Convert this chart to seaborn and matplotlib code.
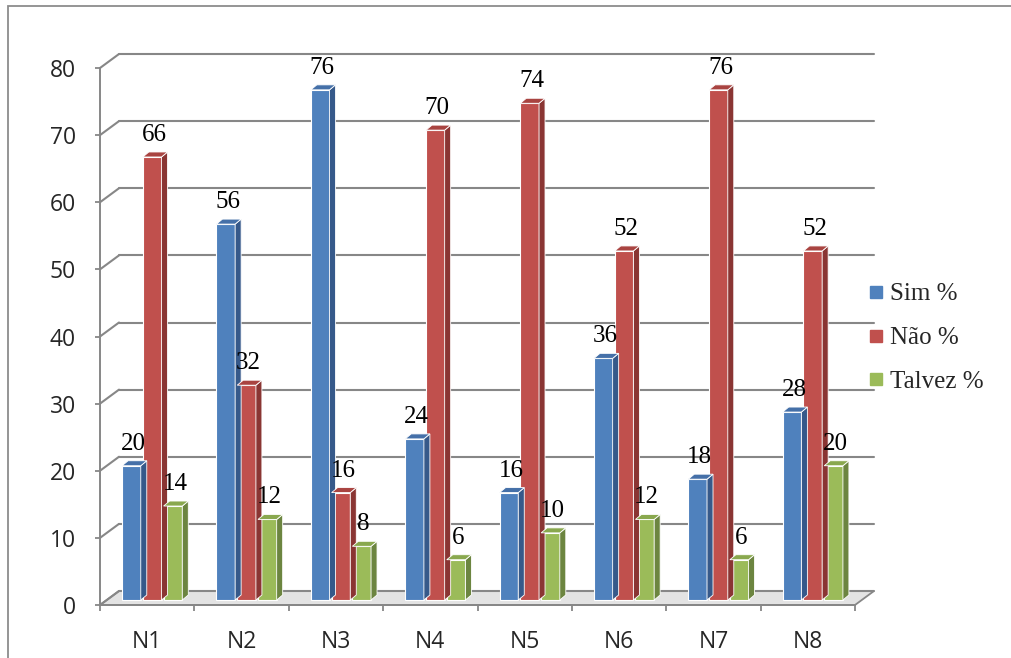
import matplotlib
matplotlib.use("Agg")
import matplotlib.pyplot as plt
import matplotlib.transforms as mtransforms
from matplotlib.patches import Polygon, Rectangle
from matplotlib.lines import Line2D
from matplotlib.font_manager import FontProperties
import pandas as pd
import seaborn as sns

# ---- data ----
categories = ["N1", "N2", "N3", "N4", "N5", "N6", "N7", "N8"]
sim = [20, 56, 76, 24, 16, 36, 18, 28]
nao = [66, 32, 16, 70, 74, 52, 76, 52]
talvez = [14, 12, 8, 6, 10, 12, 6, 20]
series_names = ["Sim %", "Não %", "Talvez %"]
y_ticks = [0, 10, 20, 30, 40, 50, 60, 70, 80]

# ---- styling ----
front_colors = ["#4F81BD", "#C0504D", "#9BBB59"]
side_colors = ["#36598A", "#8A3533", "#6C8540"]
top_colors = ["#4570A8", "#A94441", "#89A84E"]
grid_color = "#878787"

df = pd.DataFrame({
    "grupo": categories * 3,
    "valor": sim + nao + talvez,
    "serie": [s for s in series_names for _ in categories],
})

sns.set_style("white")
W, H = 1011, 658
DPI = 100
fig = plt.figure(figsize=(W / DPI, H / DPI), dpi=DPI)
fig.patch.set_facecolor("white")

ax = fig.add_axes([100 / W, (H - 605) / H, 755 / W, (605 - 68) / H])
ax.set_facecolor("none")

sns.barplot(data=df, x="grupo", y="valor", hue="serie", palette=front_colors,
            width=0.66, gap=0.1, saturation=1, edgecolor="white", linewidth=0.8,
            legend=False, ax=ax, zorder=3)
ax.set_xlim(-0.5, len(categories) - 0.5)
ax.set_ylim(0, 80)
ax.set_xlabel("")
ax.set_ylabel("")

ident = mtransforms.IdentityTransform()
px = 1.0 / DPI  # one pixel in inches

# back-wall depth and bar depth (pixels)
wall_dx, wall_dy = 19, 14
bar_dx, bar_dy = 6, 5
bar_shift = mtransforms.ScaledTranslation(5 * px, 5 * px, fig.dpi_scale_trans)


def disp(x, y):
    return ax.transData.transform((x, y))


x_lo, x_hi = ax.get_xlim()

# floor plate
fl = disp(x_lo, 0)
fr = disp(x_hi, 0)
ax.add_patch(Polygon([fl, fr, (fr[0] + wall_dx, fr[1] + wall_dy), (fl[0] + wall_dx, fl[1] + wall_dy)],
                     closed=True, facecolor="#E3E3E3", edgecolor=grid_color, lw=1.3,
                     transform=ident, clip_on=False, zorder=1))

# back-wall gridlines and left connectors
for v in y_ticks:
    a = disp(x_lo, v)
    b = disp(x_hi, v)
    ax.add_line(Line2D([a[0] + wall_dx, b[0] + wall_dx], [a[1] + wall_dy, b[1] + wall_dy],
                       color=grid_color, lw=1.5, transform=ident, clip_on=False, zorder=1))
    ax.add_line(Line2D([a[0], a[0] + wall_dx], [a[1], a[1] + wall_dy],
                       color=grid_color, lw=1.5, transform=ident, clip_on=False, zorder=1))

# 3D bar faces and value labels
label_font = FontProperties(family="Liberation Serif", size=18)
for i, container in enumerate(ax.containers):
    for patch in container.patches:
        t = ax.transData + bar_shift
        patch.set_transform(t)
        patch.set_clip_on(False)
        x0 = patch.get_x()
        w = patch.get_width()
        h = patch.get_height()
        p10 = t.transform((x0 + w, 0))
        p0h = t.transform((x0, h))
        p1h = t.transform((x0 + w, h))
        ax.add_patch(Polygon([p10, p1h, (p1h[0] + bar_dx, p1h[1] + bar_dy), (p10[0] + bar_dx, p10[1] + bar_dy)],
                             closed=True, facecolor=side_colors[i], edgecolor="white", lw=0.6,
                             transform=ident, clip_on=False, zorder=3))
        ax.add_patch(Polygon([p0h, p1h, (p1h[0] + bar_dx, p1h[1] + bar_dy), (p0h[0] + bar_dx, p0h[1] + bar_dy)],
                             closed=True, facecolor=top_colors[i], edgecolor="white", lw=0.6,
                             transform=ident, clip_on=False, zorder=3))
        cx = (p0h[0] + p1h[0]) / 2 + 2
        ax.text(cx, p0h[1] + 16, f"{h:g}", ha="center", va="baseline",
                fontproperties=label_font, color="black", transform=ident, zorder=6)

# axes lines and ticks
for side_name in ["top", "right"]:
    ax.spines[side_name].set_visible(False)
for side_name in ["left", "bottom"]:
    ax.spines[side_name].set_color(grid_color)
    ax.spines[side_name].set_linewidth(1.4)
    ax.spines[side_name].set_zorder(2)

tick_font = FontProperties(family="Open Sans", size=16.5)
ax.set_yticks(y_ticks)
ax.set_yticklabels([str(v) for v in y_ticks], fontproperties=tick_font)
ax.tick_params(axis="y", direction="out", length=3.6, width=1.3, color=grid_color, pad=13.7,
               left=True)
ax.set_xticks(range(len(categories)))
ax.set_xticklabels(categories, fontproperties=tick_font)
ax.set_xticks([k - 0.5 for k in range(len(categories) + 1)], minor=True)
ax.tick_params(axis="x", which="major", length=0, pad=18)
ax.tick_params(axis="x", which="minor", direction="out", length=4.3, width=1.3, color=grid_color,
               bottom=True)

# legend
handles = [Line2D([], [], marker="s", ls="", color=c, markersize=8) for c in front_colors]
fig.legend(handles, series_names, loc="center left", bbox_to_anchor=(869 / W, (H - 338) / H),
           frameon=False, prop=FontProperties(family="Liberation Serif", size=18),
           handlelength=0.55, handletextpad=0.3, labelspacing=0.85, borderpad=0, borderaxespad=0)

# outer chart border
fig.add_artist(Rectangle((8 / W, -0.1), 1.2, (H - 6) / H + 0.1, transform=fig.transFigure,
                         fill=False, edgecolor="#8C8C8C", lw=1.3))

fig.savefig("out.png", dpi=DPI)
